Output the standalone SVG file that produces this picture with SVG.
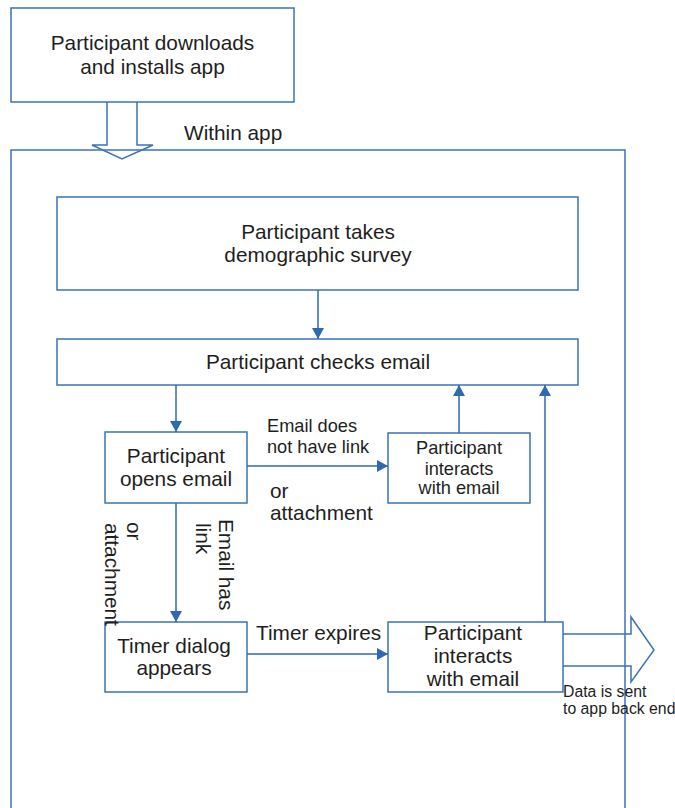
<svg xmlns="http://www.w3.org/2000/svg" width="675" height="808" viewBox="0 0 675 808">
<style>
.box{fill:#fff;stroke:#3b73b9;stroke-width:1.5}
.outline{fill:none;stroke:#3b73b9;stroke-width:1.5}
.conn{fill:none;stroke:#2d6ab2;stroke-width:1.5}
text{font-family:"Liberation Sans",Arial,sans-serif;fill:#1e1e1e}
.c{text-anchor:middle}
.f21{font-size:20.8px}
.f18{font-size:18.2px}
.f16{font-size:15.8px}
</style>
<defs>
<marker id="ah" markerUnits="userSpaceOnUse" markerWidth="11" markerHeight="12" refX="11" refY="6" orient="auto">
<path d="M0,0 L11,6 L0,12 z" fill="#2d6ab2"/>
</marker>
</defs>
<rect width="675" height="808" fill="#fff"/>
<g id="container">
<path class="outline" d="M11,812 V150 H625 V812"/>
<text class="f21" x="184" y="140">Within app</text>
</g>
<g id="download">
<rect class="box" x="11" y="8" width="283" height="94"/>
<text class="f21 c" x="152.5" y="50">Participant downloads</text>
<text class="f21 c" x="152.5" y="74">and installs app</text>
</g>
<g id="survey">
<rect class="box" x="57" y="197" width="521" height="93"/>
<text class="f21 c" x="318" y="239">Participant takes</text>
<text class="f21 c" x="318" y="262">demographic survey</text>
</g>
<g id="checks">
<rect class="box" x="57" y="339" width="521" height="46"/>
<text class="f21 c" x="318" y="369">Participant checks email</text>
</g>
<g id="opens">
<rect class="box" x="105" y="432" width="142" height="71"/>
<text class="f21 c" x="176" y="463">Participant</text>
<text class="f21 c" x="176" y="486">opens email</text>
</g>
<g id="interacts1">
<rect class="box" x="388" y="433" width="142" height="70"/>
<text class="f18 c" x="459" y="454">Participant</text>
<text class="f18 c" x="459" y="475">interacts</text>
<text class="f18 c" x="459" y="494">with email</text>
</g>
<g id="timer">
<rect class="box" x="105" y="622" width="142" height="70"/>
<text class="f21 c" x="174" y="653">Timer dialog</text>
<text class="f21 c" x="174" y="675">appears</text>
</g>
<g id="interacts2">
<rect class="box" x="388" y="622" width="175" height="70"/>
<text class="f21 c" x="473" y="640">Participant</text>
<text class="f21 c" x="473" y="663">interacts</text>
<text class="f21 c" x="473" y="686">with email</text>
</g>
<g id="connectors">
<path class="outline" d="M107,102 V145 H92 L122,159 L153,145 H137 V102"/>
<line class="conn" x1="318" y1="290" x2="318" y2="339" marker-end="url(#ah)"/>
<line class="conn" x1="176" y1="385" x2="176" y2="432" marker-end="url(#ah)"/>
<line class="conn" x1="247" y1="466" x2="388" y2="466" marker-end="url(#ah)"/>
<line class="conn" x1="459" y1="433" x2="459" y2="385" marker-end="url(#ah)"/>
<line class="conn" x1="545" y1="622" x2="545" y2="385" marker-end="url(#ah)"/>
<line class="conn" x1="176" y1="503" x2="176" y2="622" marker-end="url(#ah)"/>
<line class="conn" x1="247" y1="654" x2="388" y2="654" marker-end="url(#ah)"/>
<path class="outline" d="M563,634 H631 V617 L654,650 L631,682 V666 H563"/>
<text class="f18" x="267" y="432">Email does</text>
<text class="f18" x="267" y="453">not have link</text>
<text class="f21" x="270" y="498">or</text>
<text class="f21" x="270" y="520">attachment</text>
<text class="f21" transform="translate(219,519) rotate(90)">Email has</text>
<text class="f21" transform="translate(196,523) rotate(90)">link</text>
<text class="f21" transform="translate(127,522) rotate(90)">or</text>
<text class="f21" transform="translate(105,523) rotate(90)">attachment</text>
<text class="f21" x="256" y="640">Timer expires</text>
<text class="f16" x="563" y="697">Data is sent</text>
<text class="f16" x="563" y="714">to app back end</text>
</g>
</svg>
